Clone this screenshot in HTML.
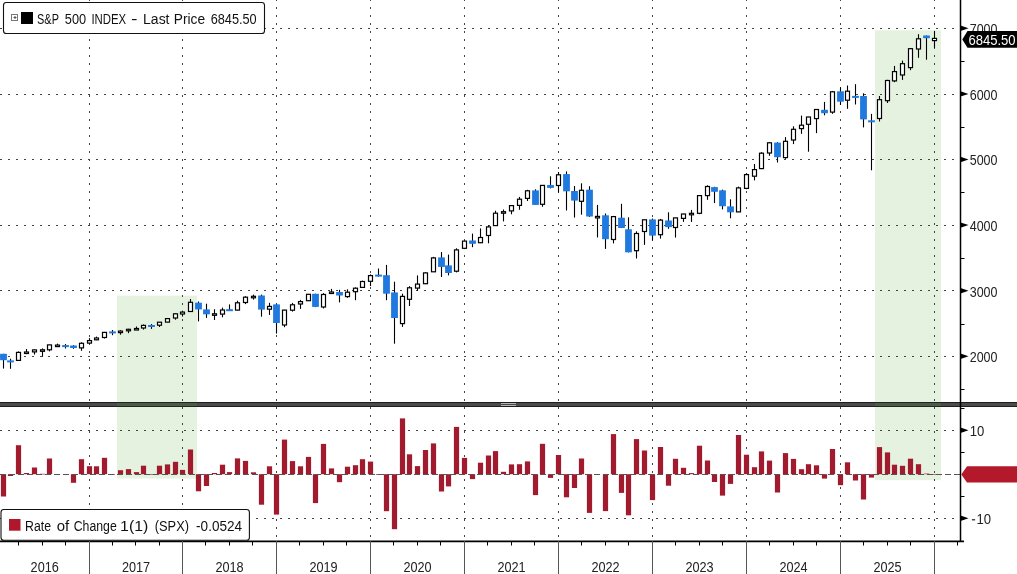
<!DOCTYPE html>
<html><head><meta charset="utf-8"><style>
html,body{margin:0;padding:0;background:#fff;width:1017px;height:574px;overflow:hidden}
svg text{font-family:"Liberation Sans",sans-serif}
svg{will-change:transform}
</style></head><body>
<svg width="1017" height="574" viewBox="0 0 1017 574" style="display:block">
<rect x="0" y="0" width="1017" height="574" fill="#fff"/>
<rect x="117" y="295.6" width="80" height="183" fill="#e6f2e0"/>
<rect x="875" y="30.2" width="66" height="450" fill="#e6f2e0"/>
<line x1="0" y1="356.5" x2="960.5" y2="356.5" stroke="#444" stroke-width="1" stroke-dasharray="2 6"/>
<line x1="0" y1="290.5" x2="960.5" y2="290.5" stroke="#444" stroke-width="1" stroke-dasharray="2 6"/>
<line x1="0" y1="225.5" x2="960.5" y2="225.5" stroke="#444" stroke-width="1" stroke-dasharray="2 6"/>
<line x1="0" y1="159.5" x2="960.5" y2="159.5" stroke="#444" stroke-width="1" stroke-dasharray="2 6"/>
<line x1="0" y1="94.5" x2="960.5" y2="94.5" stroke="#444" stroke-width="1" stroke-dasharray="2 6"/>
<line x1="0" y1="28.5" x2="960.5" y2="28.5" stroke="#444" stroke-width="1" stroke-dasharray="2 6"/>
<line x1="0" y1="430.5" x2="960.5" y2="430.5" stroke="#444" stroke-width="1" stroke-dasharray="2 6"/>
<line x1="0" y1="518.5" x2="960.5" y2="518.5" stroke="#444" stroke-width="1" stroke-dasharray="2 6"/>
<line x1="89.5" y1="-1" x2="89.5" y2="541" stroke="#444" stroke-width="1" stroke-dasharray="2 6"/>
<line x1="182.5" y1="-1" x2="182.5" y2="541" stroke="#444" stroke-width="1" stroke-dasharray="2 6"/>
<line x1="276.5" y1="-1" x2="276.5" y2="541" stroke="#444" stroke-width="1" stroke-dasharray="2 6"/>
<line x1="370.5" y1="-1" x2="370.5" y2="541" stroke="#444" stroke-width="1" stroke-dasharray="2 6"/>
<line x1="464.5" y1="-1" x2="464.5" y2="541" stroke="#444" stroke-width="1" stroke-dasharray="2 6"/>
<line x1="558.5" y1="-1" x2="558.5" y2="541" stroke="#444" stroke-width="1" stroke-dasharray="2 6"/>
<line x1="652.5" y1="-1" x2="652.5" y2="541" stroke="#444" stroke-width="1" stroke-dasharray="2 6"/>
<line x1="746.5" y1="-1" x2="746.5" y2="541" stroke="#444" stroke-width="1" stroke-dasharray="2 6"/>
<line x1="840.5" y1="-1" x2="840.5" y2="541" stroke="#444" stroke-width="1" stroke-dasharray="2 6"/>
<line x1="934.5" y1="-1" x2="934.5" y2="541" stroke="#444" stroke-width="1" stroke-dasharray="2 6"/>
<rect x="0" y="402" width="1017" height="5" fill="#1e1e1e"/>
<rect x="0" y="403" width="1017" height="3" fill="#4b4b4b"/>
<rect x="501" y="403" width="15" height="1" fill="#b4b4b4"/>
<rect x="501" y="405" width="15" height="1" fill="#b4b4b4"/>
<rect x="117" y="402" width="80" height="5" fill="#1f291f"/>
<rect x="117" y="403" width="80" height="3" fill="#4b5a49"/>
<rect x="875" y="402" width="66" height="5" fill="#1f291f"/>
<rect x="875" y="403" width="66" height="3" fill="#4b5a49"/>
<line x1="3.5" y1="353.8" x2="3.5" y2="368.6" stroke="#000" stroke-width="1.1"/>
<rect x="0.1" y="353.8" width="6.8" height="6.4" fill="#2079de"/>
<line x1="10.5" y1="358.7" x2="10.5" y2="368.8" stroke="#000" stroke-width="1.1"/>
<rect x="7.1" y="360.4" width="6.8" height="2.0" fill="#2079de"/>
<line x1="18.5" y1="351.4" x2="18.5" y2="360.8" stroke="#000" stroke-width="1.1"/>
<rect x="16.5" y="352.4" width="4" height="8.0" fill="#fff" stroke="#000" stroke-width="1.2"/>
<line x1="26.5" y1="349.0" x2="26.5" y2="354.1" stroke="#000" stroke-width="1.1"/>
<rect x="24.5" y="352.0" width="4" height="1.5" fill="#fff" stroke="#000" stroke-width="1.2"/>
<line x1="34.5" y1="349.5" x2="34.5" y2="354.6" stroke="#000" stroke-width="1.1"/>
<rect x="32.5" y="349.9" width="4" height="2.0" fill="#fff" stroke="#000" stroke-width="1.2"/>
<line x1="42.5" y1="348.4" x2="42.5" y2="356.8" stroke="#000" stroke-width="1.1"/>
<rect x="40.5" y="349.8" width="4" height="1.5" fill="#fff" stroke="#000" stroke-width="1.2"/>
<line x1="49.5" y1="344.7" x2="49.5" y2="351.4" stroke="#000" stroke-width="1.1"/>
<rect x="47.5" y="344.9" width="4" height="4.9" fill="#fff" stroke="#000" stroke-width="1.2"/>
<line x1="57.5" y1="343.6" x2="57.5" y2="346.6" stroke="#000" stroke-width="1.1"/>
<rect x="55.5" y="345.1" width="4" height="1.5" fill="#fff" stroke="#000" stroke-width="1.2"/>
<line x1="65.5" y1="344.0" x2="65.5" y2="348.5" stroke="#000" stroke-width="1.1"/>
<rect x="62.1" y="345.1" width="6.8" height="2.0" fill="#2079de"/>
<line x1="73.5" y1="345.2" x2="73.5" y2="348.8" stroke="#000" stroke-width="1.1"/>
<rect x="70.1" y="345.5" width="6.8" height="2.5" fill="#2079de"/>
<line x1="81.5" y1="342.3" x2="81.5" y2="350.8" stroke="#000" stroke-width="1.1"/>
<rect x="79.5" y="343.3" width="4" height="4.6" fill="#fff" stroke="#000" stroke-width="1.2"/>
<line x1="89.5" y1="338.1" x2="89.5" y2="344.0" stroke="#000" stroke-width="1.1"/>
<rect x="87.5" y="340.6" width="4" height="2.5" fill="#fff" stroke="#000" stroke-width="1.2"/>
<line x1="96.5" y1="336.6" x2="96.5" y2="340.2" stroke="#000" stroke-width="1.1"/>
<rect x="94.5" y="338.0" width="4" height="1.8" fill="#fff" stroke="#000" stroke-width="1.2"/>
<line x1="104.5" y1="331.9" x2="104.5" y2="338.5" stroke="#000" stroke-width="1.1"/>
<rect x="102.5" y="332.4" width="4" height="5.1" fill="#fff" stroke="#000" stroke-width="1.2"/>
<line x1="112.5" y1="330.0" x2="112.5" y2="335.2" stroke="#000" stroke-width="1.1"/>
<rect x="109.1" y="331.4" width="6.8" height="2.0" fill="#2079de"/>
<line x1="120.5" y1="330.2" x2="120.5" y2="334.7" stroke="#000" stroke-width="1.1"/>
<rect x="118.5" y="331.1" width="4" height="1.5" fill="#fff" stroke="#000" stroke-width="1.2"/>
<line x1="128.5" y1="328.8" x2="128.5" y2="333.2" stroke="#000" stroke-width="1.1"/>
<rect x="126.5" y="329.3" width="4" height="1.5" fill="#fff" stroke="#000" stroke-width="1.2"/>
<line x1="136.5" y1="326.5" x2="136.5" y2="329.7" stroke="#000" stroke-width="1.1"/>
<rect x="134.5" y="328.5" width="4" height="1.5" fill="#fff" stroke="#000" stroke-width="1.2"/>
<line x1="143.5" y1="324.5" x2="143.5" y2="329.6" stroke="#000" stroke-width="1.1"/>
<rect x="141.5" y="325.4" width="4" height="2.6" fill="#fff" stroke="#000" stroke-width="1.2"/>
<line x1="151.5" y1="324.1" x2="151.5" y2="328.9" stroke="#000" stroke-width="1.1"/>
<rect x="148.1" y="325.0" width="6.8" height="2.0" fill="#2079de"/>
<line x1="159.5" y1="322.2" x2="159.5" y2="327.0" stroke="#000" stroke-width="1.1"/>
<rect x="157.5" y="322.2" width="4" height="3.0" fill="#fff" stroke="#000" stroke-width="1.2"/>
<line x1="167.5" y1="318.1" x2="167.5" y2="322.2" stroke="#000" stroke-width="1.1"/>
<rect x="165.5" y="318.6" width="4" height="3.5" fill="#fff" stroke="#000" stroke-width="1.2"/>
<line x1="175.5" y1="313.2" x2="175.5" y2="319.7" stroke="#000" stroke-width="1.1"/>
<rect x="173.5" y="313.8" width="4" height="4.2" fill="#fff" stroke="#000" stroke-width="1.2"/>
<line x1="182.5" y1="310.7" x2="182.5" y2="316.6" stroke="#000" stroke-width="1.1"/>
<rect x="180.5" y="312.1" width="4" height="1.9" fill="#fff" stroke="#000" stroke-width="1.2"/>
<line x1="190.5" y1="299.0" x2="190.5" y2="311.5" stroke="#000" stroke-width="1.1"/>
<rect x="188.5" y="302.3" width="4" height="9.2" fill="#fff" stroke="#000" stroke-width="1.2"/>
<line x1="198.5" y1="301.5" x2="198.5" y2="321.4" stroke="#000" stroke-width="1.1"/>
<rect x="195.1" y="302.7" width="6.8" height="6.7" fill="#2079de"/>
<line x1="206.5" y1="303.7" x2="206.5" y2="317.9" stroke="#000" stroke-width="1.1"/>
<rect x="203.1" y="309.4" width="6.8" height="4.9" fill="#2079de"/>
<line x1="214.5" y1="309.2" x2="214.5" y2="320.0" stroke="#000" stroke-width="1.1"/>
<rect x="212.5" y="313.8" width="4" height="1.5" fill="#fff" stroke="#000" stroke-width="1.2"/>
<line x1="222.5" y1="307.6" x2="222.5" y2="317.3" stroke="#000" stroke-width="1.1"/>
<rect x="220.5" y="310.0" width="4" height="4.1" fill="#fff" stroke="#000" stroke-width="1.2"/>
<line x1="229.5" y1="304.4" x2="229.5" y2="310.9" stroke="#000" stroke-width="1.1"/>
<rect x="226.1" y="309.2" width="6.8" height="2.0" fill="#2079de"/>
<line x1="237.5" y1="300.7" x2="237.5" y2="310.4" stroke="#000" stroke-width="1.1"/>
<rect x="235.5" y="302.8" width="4" height="7.3" fill="#fff" stroke="#000" stroke-width="1.2"/>
<line x1="245.5" y1="296.2" x2="245.5" y2="304.1" stroke="#000" stroke-width="1.1"/>
<rect x="243.5" y="297.2" width="4" height="5.3" fill="#fff" stroke="#000" stroke-width="1.2"/>
<line x1="253.5" y1="294.6" x2="253.5" y2="299.6" stroke="#000" stroke-width="1.1"/>
<rect x="251.5" y="296.3" width="4" height="1.5" fill="#fff" stroke="#000" stroke-width="1.2"/>
<line x1="261.5" y1="294.6" x2="261.5" y2="316.7" stroke="#000" stroke-width="1.1"/>
<rect x="258.1" y="295.5" width="6.8" height="14.1" fill="#2079de"/>
<line x1="269.5" y1="302.8" x2="269.5" y2="314.9" stroke="#000" stroke-width="1.1"/>
<rect x="267.5" y="306.4" width="4" height="2.8" fill="#fff" stroke="#000" stroke-width="1.2"/>
<line x1="276.5" y1="303.8" x2="276.5" y2="333.6" stroke="#000" stroke-width="1.1"/>
<rect x="273.1" y="304.4" width="6.8" height="18.6" fill="#2079de"/>
<line x1="284.5" y1="309.8" x2="284.5" y2="327.2" stroke="#000" stroke-width="1.1"/>
<rect x="282.5" y="310.1" width="4" height="14.9" fill="#fff" stroke="#000" stroke-width="1.2"/>
<line x1="292.5" y1="302.9" x2="292.5" y2="311.6" stroke="#000" stroke-width="1.1"/>
<rect x="290.5" y="304.8" width="4" height="5.4" fill="#fff" stroke="#000" stroke-width="1.2"/>
<line x1="300.5" y1="299.9" x2="300.5" y2="308.9" stroke="#000" stroke-width="1.1"/>
<rect x="298.5" y="301.6" width="4" height="2.4" fill="#fff" stroke="#000" stroke-width="1.2"/>
<line x1="308.5" y1="294.0" x2="308.5" y2="300.6" stroke="#000" stroke-width="1.1"/>
<rect x="306.5" y="294.3" width="4" height="6.4" fill="#fff" stroke="#000" stroke-width="1.2"/>
<line x1="315.5" y1="293.7" x2="315.5" y2="307.1" stroke="#000" stroke-width="1.1"/>
<rect x="312.1" y="293.8" width="6.8" height="13.1" fill="#2079de"/>
<line x1="323.5" y1="293.1" x2="323.5" y2="308.5" stroke="#000" stroke-width="1.1"/>
<rect x="321.5" y="294.5" width="4" height="12.5" fill="#fff" stroke="#000" stroke-width="1.2"/>
<line x1="331.5" y1="288.9" x2="331.5" y2="293.8" stroke="#000" stroke-width="1.1"/>
<rect x="329.5" y="292.0" width="4" height="1.5" fill="#fff" stroke="#000" stroke-width="1.2"/>
<line x1="339.5" y1="289.8" x2="339.5" y2="302.4" stroke="#000" stroke-width="1.1"/>
<rect x="336.1" y="292.0" width="6.8" height="3.5" fill="#2079de"/>
<line x1="347.5" y1="289.3" x2="347.5" y2="297.8" stroke="#000" stroke-width="1.1"/>
<rect x="345.5" y="292.2" width="4" height="4.4" fill="#fff" stroke="#000" stroke-width="1.2"/>
<line x1="355.5" y1="287.4" x2="355.5" y2="300.2" stroke="#000" stroke-width="1.1"/>
<rect x="353.5" y="288.2" width="4" height="3.5" fill="#fff" stroke="#000" stroke-width="1.2"/>
<line x1="362.5" y1="280.6" x2="362.5" y2="287.4" stroke="#000" stroke-width="1.1"/>
<rect x="360.5" y="281.5" width="4" height="5.9" fill="#fff" stroke="#000" stroke-width="1.2"/>
<line x1="370.5" y1="274.4" x2="370.5" y2="286.1" stroke="#000" stroke-width="1.1"/>
<rect x="368.5" y="275.6" width="4" height="5.7" fill="#fff" stroke="#000" stroke-width="1.2"/>
<line x1="378.5" y1="268.5" x2="378.5" y2="276.6" stroke="#000" stroke-width="1.1"/>
<rect x="375.1" y="274.6" width="6.8" height="2.0" fill="#2079de"/>
<line x1="386.5" y1="264.9" x2="386.5" y2="300.2" stroke="#000" stroke-width="1.1"/>
<rect x="383.1" y="275.2" width="6.8" height="18.5" fill="#2079de"/>
<line x1="394.5" y1="281.7" x2="394.5" y2="343.7" stroke="#000" stroke-width="1.1"/>
<rect x="391.1" y="292.4" width="6.8" height="25.6" fill="#2079de"/>
<line x1="402.5" y1="293.7" x2="402.5" y2="326.9" stroke="#000" stroke-width="1.1"/>
<rect x="400.5" y="296.4" width="4" height="27.2" fill="#fff" stroke="#000" stroke-width="1.2"/>
<line x1="409.5" y1="286.2" x2="409.5" y2="306.0" stroke="#000" stroke-width="1.1"/>
<rect x="407.5" y="287.8" width="4" height="11.5" fill="#fff" stroke="#000" stroke-width="1.2"/>
<line x1="417.5" y1="275.4" x2="417.5" y2="290.7" stroke="#000" stroke-width="1.1"/>
<rect x="415.5" y="284.1" width="4" height="4.0" fill="#fff" stroke="#000" stroke-width="1.2"/>
<line x1="425.5" y1="272.3" x2="425.5" y2="284.1" stroke="#000" stroke-width="1.1"/>
<rect x="423.5" y="272.9" width="4" height="10.8" fill="#fff" stroke="#000" stroke-width="1.2"/>
<line x1="433.5" y1="256.9" x2="433.5" y2="272.0" stroke="#000" stroke-width="1.1"/>
<rect x="431.5" y="257.9" width="4" height="13.9" fill="#fff" stroke="#000" stroke-width="1.2"/>
<line x1="441.5" y1="252.1" x2="441.5" y2="277.0" stroke="#000" stroke-width="1.1"/>
<rect x="438.1" y="257.4" width="6.8" height="9.5" fill="#2079de"/>
<line x1="448.5" y1="254.6" x2="448.5" y2="275.4" stroke="#000" stroke-width="1.1"/>
<rect x="445.1" y="265.4" width="6.8" height="7.6" fill="#2079de"/>
<line x1="456.5" y1="248.3" x2="456.5" y2="272.4" stroke="#000" stroke-width="1.1"/>
<rect x="454.5" y="249.9" width="4" height="21.3" fill="#fff" stroke="#000" stroke-width="1.2"/>
<line x1="464.5" y1="240.8" x2="464.5" y2="249.1" stroke="#000" stroke-width="1.1"/>
<rect x="462.5" y="241.1" width="4" height="7.2" fill="#fff" stroke="#000" stroke-width="1.2"/>
<line x1="472.5" y1="233.6" x2="472.5" y2="247.2" stroke="#000" stroke-width="1.1"/>
<rect x="469.1" y="240.5" width="6.8" height="3.3" fill="#2079de"/>
<line x1="480.5" y1="228.4" x2="480.5" y2="243.1" stroke="#000" stroke-width="1.1"/>
<rect x="478.5" y="237.5" width="4" height="5.2" fill="#fff" stroke="#000" stroke-width="1.2"/>
<line x1="488.5" y1="225.5" x2="488.5" y2="243.3" stroke="#000" stroke-width="1.1"/>
<rect x="486.5" y="226.9" width="4" height="8.6" fill="#fff" stroke="#000" stroke-width="1.2"/>
<line x1="495.5" y1="210.7" x2="495.5" y2="225.6" stroke="#000" stroke-width="1.1"/>
<rect x="493.5" y="213.2" width="4" height="12.4" fill="#fff" stroke="#000" stroke-width="1.2"/>
<line x1="503.5" y1="209.5" x2="503.5" y2="221.4" stroke="#000" stroke-width="1.1"/>
<rect x="501.5" y="211.7" width="4" height="1.5" fill="#fff" stroke="#000" stroke-width="1.2"/>
<line x1="511.5" y1="205.3" x2="511.5" y2="214.3" stroke="#000" stroke-width="1.1"/>
<rect x="509.5" y="205.6" width="4" height="5.3" fill="#fff" stroke="#000" stroke-width="1.2"/>
<line x1="519.5" y1="196.9" x2="519.5" y2="209.8" stroke="#000" stroke-width="1.1"/>
<rect x="517.5" y="199.2" width="4" height="6.2" fill="#fff" stroke="#000" stroke-width="1.2"/>
<line x1="527.5" y1="189.8" x2="527.5" y2="201.0" stroke="#000" stroke-width="1.1"/>
<rect x="525.5" y="190.8" width="4" height="7.6" fill="#fff" stroke="#000" stroke-width="1.2"/>
<line x1="535.5" y1="189.3" x2="535.5" y2="205.0" stroke="#000" stroke-width="1.1"/>
<rect x="532.1" y="190.4" width="6.8" height="14.5" fill="#2079de"/>
<line x1="542.5" y1="185.2" x2="542.5" y2="206.8" stroke="#000" stroke-width="1.1"/>
<rect x="540.5" y="185.4" width="4" height="18.9" fill="#fff" stroke="#000" stroke-width="1.2"/>
<line x1="550.5" y1="176.3" x2="550.5" y2="188.4" stroke="#000" stroke-width="1.1"/>
<rect x="547.1" y="185.0" width="6.8" height="2.9" fill="#2079de"/>
<line x1="558.5" y1="172.0" x2="558.5" y2="192.6" stroke="#000" stroke-width="1.1"/>
<rect x="556.5" y="174.8" width="4" height="10.7" fill="#fff" stroke="#000" stroke-width="1.2"/>
<line x1="566.5" y1="171.4" x2="566.5" y2="210.5" stroke="#000" stroke-width="1.1"/>
<rect x="563.1" y="174.1" width="6.8" height="17.2" fill="#2079de"/>
<line x1="574.5" y1="186.0" x2="574.5" y2="217.6" stroke="#000" stroke-width="1.1"/>
<rect x="571.1" y="191.0" width="6.8" height="9.6" fill="#2079de"/>
<line x1="581.5" y1="183.3" x2="581.5" y2="214.7" stroke="#000" stroke-width="1.1"/>
<rect x="579.5" y="190.3" width="4" height="11.0" fill="#fff" stroke="#000" stroke-width="1.2"/>
<line x1="589.5" y1="186.2" x2="589.5" y2="216.9" stroke="#000" stroke-width="1.1"/>
<rect x="586.1" y="189.7" width="6.8" height="26.8" fill="#2079de"/>
<line x1="597.5" y1="204.9" x2="597.5" y2="237.5" stroke="#000" stroke-width="1.1"/>
<rect x="595.5" y="216.4" width="4" height="1.5" fill="#fff" stroke="#000" stroke-width="1.2"/>
<line x1="605.5" y1="213.5" x2="605.5" y2="248.9" stroke="#000" stroke-width="1.1"/>
<rect x="602.1" y="215.3" width="6.8" height="23.9" fill="#2079de"/>
<line x1="613.5" y1="215.9" x2="613.5" y2="243.4" stroke="#000" stroke-width="1.1"/>
<rect x="611.5" y="216.6" width="4" height="22.9" fill="#fff" stroke="#000" stroke-width="1.2"/>
<line x1="621.5" y1="203.8" x2="621.5" y2="228.1" stroke="#000" stroke-width="1.1"/>
<rect x="618.1" y="217.7" width="6.8" height="10.3" fill="#2079de"/>
<line x1="628.5" y1="217.3" x2="628.5" y2="252.4" stroke="#000" stroke-width="1.1"/>
<rect x="625.1" y="229.3" width="6.8" height="23.0" fill="#2079de"/>
<line x1="636.5" y1="231.3" x2="636.5" y2="258.5" stroke="#000" stroke-width="1.1"/>
<rect x="634.5" y="233.5" width="4" height="17.2" fill="#fff" stroke="#000" stroke-width="1.2"/>
<line x1="644.5" y1="219.8" x2="644.5" y2="244.9" stroke="#000" stroke-width="1.1"/>
<rect x="642.5" y="219.8" width="4" height="11.7" fill="#fff" stroke="#000" stroke-width="1.2"/>
<line x1="652.5" y1="218.5" x2="652.5" y2="240.5" stroke="#000" stroke-width="1.1"/>
<rect x="649.1" y="219.4" width="6.8" height="16.2" fill="#2079de"/>
<line x1="660.5" y1="218.9" x2="660.5" y2="238.6" stroke="#000" stroke-width="1.1"/>
<rect x="658.5" y="220.1" width="4" height="14.6" fill="#fff" stroke="#000" stroke-width="1.2"/>
<line x1="668.5" y1="212.3" x2="668.5" y2="228.8" stroke="#000" stroke-width="1.1"/>
<rect x="665.1" y="220.5" width="6.8" height="6.6" fill="#2079de"/>
<line x1="675.5" y1="217.8" x2="675.5" y2="237.6" stroke="#000" stroke-width="1.1"/>
<rect x="673.5" y="217.9" width="4" height="9.6" fill="#fff" stroke="#000" stroke-width="1.2"/>
<line x1="683.5" y1="213.9" x2="683.5" y2="221.9" stroke="#000" stroke-width="1.1"/>
<rect x="681.5" y="214.0" width="4" height="4.4" fill="#fff" stroke="#000" stroke-width="1.2"/>
<line x1="691.5" y1="209.9" x2="691.5" y2="221.9" stroke="#000" stroke-width="1.1"/>
<rect x="689.5" y="213.3" width="4" height="1.5" fill="#fff" stroke="#000" stroke-width="1.2"/>
<line x1="699.5" y1="195.0" x2="699.5" y2="214.2" stroke="#000" stroke-width="1.1"/>
<rect x="697.5" y="195.6" width="4" height="17.7" fill="#fff" stroke="#000" stroke-width="1.2"/>
<line x1="707.5" y1="185.3" x2="707.5" y2="199.8" stroke="#000" stroke-width="1.1"/>
<rect x="705.5" y="186.5" width="4" height="9.1" fill="#fff" stroke="#000" stroke-width="1.2"/>
<line x1="714.5" y1="186.8" x2="714.5" y2="203.1" stroke="#000" stroke-width="1.1"/>
<rect x="711.1" y="187.1" width="6.8" height="4.7" fill="#2079de"/>
<line x1="722.5" y1="189.6" x2="722.5" y2="209.4" stroke="#000" stroke-width="1.1"/>
<rect x="719.1" y="190.3" width="6.8" height="15.9" fill="#2079de"/>
<line x1="730.5" y1="199.3" x2="730.5" y2="218.3" stroke="#000" stroke-width="1.1"/>
<rect x="727.1" y="206.4" width="6.8" height="5.9" fill="#2079de"/>
<line x1="738.5" y1="186.6" x2="738.5" y2="212.1" stroke="#000" stroke-width="1.1"/>
<rect x="736.5" y="187.9" width="4" height="24.0" fill="#fff" stroke="#000" stroke-width="1.2"/>
<line x1="746.5" y1="173.1" x2="746.5" y2="189.2" stroke="#000" stroke-width="1.1"/>
<rect x="744.5" y="174.6" width="4" height="13.8" fill="#fff" stroke="#000" stroke-width="1.2"/>
<line x1="754.5" y1="164.0" x2="754.5" y2="180.4" stroke="#000" stroke-width="1.1"/>
<rect x="752.5" y="169.6" width="4" height="6.6" fill="#fff" stroke="#000" stroke-width="1.2"/>
<line x1="761.5" y1="152.2" x2="761.5" y2="169.1" stroke="#000" stroke-width="1.1"/>
<rect x="759.5" y="153.2" width="4" height="15.4" fill="#fff" stroke="#000" stroke-width="1.2"/>
<line x1="769.5" y1="142.1" x2="769.5" y2="155.8" stroke="#000" stroke-width="1.1"/>
<rect x="767.5" y="142.8" width="4" height="10.2" fill="#fff" stroke="#000" stroke-width="1.2"/>
<line x1="777.5" y1="142.2" x2="777.5" y2="162.5" stroke="#000" stroke-width="1.1"/>
<rect x="774.1" y="142.6" width="6.8" height="14.6" fill="#2079de"/>
<line x1="785.5" y1="137.1" x2="785.5" y2="158.8" stroke="#000" stroke-width="1.1"/>
<rect x="783.5" y="141.3" width="4" height="16.3" fill="#fff" stroke="#000" stroke-width="1.2"/>
<line x1="793.5" y1="126.3" x2="793.5" y2="144.1" stroke="#000" stroke-width="1.1"/>
<rect x="791.5" y="129.3" width="4" height="10.7" fill="#fff" stroke="#000" stroke-width="1.2"/>
<line x1="801.5" y1="115.6" x2="801.5" y2="133.9" stroke="#000" stroke-width="1.1"/>
<rect x="799.5" y="125.2" width="4" height="3.4" fill="#fff" stroke="#000" stroke-width="1.2"/>
<line x1="808.5" y1="116.8" x2="808.5" y2="151.7" stroke="#000" stroke-width="1.1"/>
<rect x="806.5" y="117.0" width="4" height="7.3" fill="#fff" stroke="#000" stroke-width="1.2"/>
<line x1="816.5" y1="109.2" x2="816.5" y2="133.1" stroke="#000" stroke-width="1.1"/>
<rect x="814.5" y="109.5" width="4" height="9.1" fill="#fff" stroke="#000" stroke-width="1.2"/>
<line x1="824.5" y1="101.9" x2="824.5" y2="115.3" stroke="#000" stroke-width="1.1"/>
<rect x="821.1" y="109.8" width="6.8" height="3.4" fill="#2079de"/>
<line x1="832.5" y1="91.0" x2="832.5" y2="113.8" stroke="#000" stroke-width="1.1"/>
<rect x="830.5" y="91.8" width="4" height="20.3" fill="#fff" stroke="#000" stroke-width="1.2"/>
<line x1="840.5" y1="87.3" x2="840.5" y2="104.9" stroke="#000" stroke-width="1.1"/>
<rect x="837.1" y="91.3" width="6.8" height="10.4" fill="#2079de"/>
<line x1="847.5" y1="85.5" x2="847.5" y2="108.8" stroke="#000" stroke-width="1.1"/>
<rect x="845.5" y="91.2" width="4" height="9.0" fill="#fff" stroke="#000" stroke-width="1.2"/>
<line x1="855.5" y1="84.2" x2="855.5" y2="104.5" stroke="#000" stroke-width="1.1"/>
<rect x="852.1" y="95.9" width="6.8" height="2.0" fill="#2079de"/>
<line x1="863.5" y1="93.3" x2="863.5" y2="127.4" stroke="#000" stroke-width="1.1"/>
<rect x="860.1" y="96.0" width="6.8" height="23.4" fill="#2079de"/>
<line x1="871.5" y1="113.9" x2="871.5" y2="170.3" stroke="#000" stroke-width="1.1"/>
<rect x="868.1" y="120.3" width="6.8" height="2.0" fill="#2079de"/>
<line x1="879.5" y1="96.0" x2="879.5" y2="121.5" stroke="#000" stroke-width="1.1"/>
<rect x="877.5" y="99.7" width="4" height="18.8" fill="#fff" stroke="#000" stroke-width="1.2"/>
<line x1="887.5" y1="79.8" x2="887.5" y2="103.0" stroke="#000" stroke-width="1.1"/>
<rect x="885.5" y="80.5" width="4" height="20.2" fill="#fff" stroke="#000" stroke-width="1.2"/>
<line x1="894.5" y1="65.9" x2="894.5" y2="82.2" stroke="#000" stroke-width="1.1"/>
<rect x="892.5" y="71.6" width="4" height="9.3" fill="#fff" stroke="#000" stroke-width="1.2"/>
<line x1="902.5" y1="60.6" x2="902.5" y2="79.9" stroke="#000" stroke-width="1.1"/>
<rect x="900.5" y="63.7" width="4" height="11.3" fill="#fff" stroke="#000" stroke-width="1.2"/>
<line x1="910.5" y1="48.0" x2="910.5" y2="70.2" stroke="#000" stroke-width="1.1"/>
<rect x="908.5" y="48.7" width="4" height="18.9" fill="#fff" stroke="#000" stroke-width="1.2"/>
<line x1="918.5" y1="34.2" x2="918.5" y2="57.8" stroke="#000" stroke-width="1.1"/>
<rect x="916.5" y="38.8" width="4" height="10.2" fill="#fff" stroke="#000" stroke-width="1.2"/>
<line x1="926.5" y1="35.5" x2="926.5" y2="59.7" stroke="#000" stroke-width="1.1"/>
<rect x="923.1" y="35.5" width="6.8" height="2.7" fill="#2079de"/>
<line x1="934.5" y1="30.9" x2="934.5" y2="48.0" stroke="#000" stroke-width="1.1"/>
<rect x="932.5" y="38.4" width="4" height="2.2" fill="#fff" stroke="#000" stroke-width="1.2"/>
<rect x="0.9" y="474.2" width="5.2" height="22.3" fill="#a11a2e"/>
<rect x="7.9" y="474.2" width="5.2" height="1.8" fill="#a11a2e"/>
<rect x="15.9" y="445.2" width="5.2" height="29.0" fill="#a11a2e"/>
<rect x="23.9" y="473.0" width="5.2" height="1.2" fill="#a11a2e"/>
<rect x="31.9" y="467.5" width="5.2" height="6.7" fill="#a11a2e"/>
<rect x="39.9" y="473.8" width="5.2" height="0.6" fill="#a11a2e"/>
<rect x="46.9" y="458.5" width="5.2" height="15.7" fill="#a11a2e"/>
<rect x="54.9" y="474.2" width="5.2" height="0.6" fill="#a11a2e"/>
<rect x="62.9" y="474.2" width="5.2" height="0.6" fill="#a11a2e"/>
<rect x="70.9" y="474.2" width="5.2" height="8.6" fill="#a11a2e"/>
<rect x="78.9" y="459.2" width="5.2" height="15.0" fill="#a11a2e"/>
<rect x="86.9" y="466.2" width="5.2" height="8.0" fill="#a11a2e"/>
<rect x="93.9" y="466.3" width="5.2" height="7.9" fill="#a11a2e"/>
<rect x="101.9" y="457.8" width="5.2" height="16.4" fill="#a11a2e"/>
<rect x="109.9" y="474.2" width="5.2" height="0.6" fill="#a11a2e"/>
<rect x="117.9" y="470.2" width="5.2" height="4.0" fill="#a11a2e"/>
<rect x="125.9" y="469.1" width="5.2" height="5.1" fill="#a11a2e"/>
<rect x="133.9" y="472.1" width="5.2" height="2.1" fill="#a11a2e"/>
<rect x="140.9" y="465.7" width="5.2" height="8.5" fill="#a11a2e"/>
<rect x="148.9" y="474.0" width="5.2" height="0.6" fill="#a11a2e"/>
<rect x="156.9" y="465.7" width="5.2" height="8.5" fill="#a11a2e"/>
<rect x="164.9" y="464.4" width="5.2" height="9.8" fill="#a11a2e"/>
<rect x="172.9" y="461.8" width="5.2" height="12.4" fill="#a11a2e"/>
<rect x="179.9" y="469.9" width="5.2" height="4.3" fill="#a11a2e"/>
<rect x="187.9" y="449.5" width="5.2" height="24.7" fill="#a11a2e"/>
<rect x="195.9" y="474.2" width="5.2" height="17.1" fill="#a11a2e"/>
<rect x="203.9" y="474.2" width="5.2" height="11.8" fill="#a11a2e"/>
<rect x="211.9" y="473.0" width="5.2" height="1.2" fill="#a11a2e"/>
<rect x="219.9" y="464.7" width="5.2" height="9.5" fill="#a11a2e"/>
<rect x="226.9" y="472.1" width="5.2" height="2.1" fill="#a11a2e"/>
<rect x="234.9" y="458.4" width="5.2" height="15.8" fill="#a11a2e"/>
<rect x="242.9" y="460.9" width="5.2" height="13.3" fill="#a11a2e"/>
<rect x="250.9" y="472.3" width="5.2" height="1.9" fill="#a11a2e"/>
<rect x="258.9" y="474.2" width="5.2" height="30.5" fill="#a11a2e"/>
<rect x="266.9" y="466.3" width="5.2" height="7.9" fill="#a11a2e"/>
<rect x="273.9" y="474.2" width="5.2" height="40.4" fill="#a11a2e"/>
<rect x="281.9" y="439.6" width="5.2" height="34.6" fill="#a11a2e"/>
<rect x="289.9" y="461.1" width="5.2" height="13.1" fill="#a11a2e"/>
<rect x="297.9" y="466.3" width="5.2" height="7.9" fill="#a11a2e"/>
<rect x="305.9" y="456.9" width="5.2" height="17.3" fill="#a11a2e"/>
<rect x="312.9" y="474.2" width="5.2" height="28.9" fill="#a11a2e"/>
<rect x="320.9" y="443.9" width="5.2" height="30.3" fill="#a11a2e"/>
<rect x="328.9" y="468.4" width="5.2" height="5.8" fill="#a11a2e"/>
<rect x="336.9" y="474.2" width="5.2" height="8.0" fill="#a11a2e"/>
<rect x="344.9" y="466.7" width="5.2" height="7.5" fill="#a11a2e"/>
<rect x="352.9" y="465.2" width="5.2" height="9.0" fill="#a11a2e"/>
<rect x="359.9" y="459.2" width="5.2" height="15.0" fill="#a11a2e"/>
<rect x="367.9" y="461.6" width="5.2" height="12.6" fill="#a11a2e"/>
<rect x="375.9" y="474.2" width="5.2" height="0.7" fill="#a11a2e"/>
<rect x="383.9" y="474.2" width="5.2" height="37.0" fill="#a11a2e"/>
<rect x="391.9" y="474.2" width="5.2" height="55.0" fill="#a11a2e"/>
<rect x="399.9" y="418.4" width="5.2" height="55.8" fill="#a11a2e"/>
<rect x="406.9" y="454.3" width="5.2" height="19.9" fill="#a11a2e"/>
<rect x="414.9" y="466.1" width="5.2" height="8.1" fill="#a11a2e"/>
<rect x="422.9" y="450.0" width="5.2" height="24.2" fill="#a11a2e"/>
<rect x="430.9" y="443.4" width="5.2" height="30.8" fill="#a11a2e"/>
<rect x="438.9" y="474.2" width="5.2" height="17.3" fill="#a11a2e"/>
<rect x="445.9" y="474.2" width="5.2" height="12.2" fill="#a11a2e"/>
<rect x="453.9" y="426.9" width="5.2" height="47.3" fill="#a11a2e"/>
<rect x="461.9" y="457.9" width="5.2" height="16.3" fill="#a11a2e"/>
<rect x="469.9" y="474.2" width="5.2" height="4.9" fill="#a11a2e"/>
<rect x="477.9" y="462.7" width="5.2" height="11.5" fill="#a11a2e"/>
<rect x="485.9" y="455.5" width="5.2" height="18.7" fill="#a11a2e"/>
<rect x="492.9" y="451.1" width="5.2" height="23.1" fill="#a11a2e"/>
<rect x="500.9" y="471.8" width="5.2" height="2.4" fill="#a11a2e"/>
<rect x="508.9" y="464.4" width="5.2" height="9.8" fill="#a11a2e"/>
<rect x="516.9" y="464.2" width="5.2" height="10.0" fill="#a11a2e"/>
<rect x="524.9" y="461.4" width="5.2" height="12.8" fill="#a11a2e"/>
<rect x="532.9" y="474.2" width="5.2" height="20.9" fill="#a11a2e"/>
<rect x="539.9" y="443.8" width="5.2" height="30.4" fill="#a11a2e"/>
<rect x="547.9" y="474.2" width="5.2" height="3.7" fill="#a11a2e"/>
<rect x="555.9" y="455.0" width="5.2" height="19.2" fill="#a11a2e"/>
<rect x="563.9" y="474.2" width="5.2" height="23.1" fill="#a11a2e"/>
<rect x="571.9" y="474.2" width="5.2" height="13.8" fill="#a11a2e"/>
<rect x="578.9" y="458.5" width="5.2" height="15.7" fill="#a11a2e"/>
<rect x="586.9" y="474.2" width="5.2" height="38.7" fill="#a11a2e"/>
<rect x="594.9" y="474.2" width="5.2" height="0.6" fill="#a11a2e"/>
<rect x="602.9" y="474.2" width="5.2" height="36.9" fill="#a11a2e"/>
<rect x="610.9" y="434.1" width="5.2" height="40.1" fill="#a11a2e"/>
<rect x="618.9" y="474.2" width="5.2" height="18.7" fill="#a11a2e"/>
<rect x="625.9" y="474.2" width="5.2" height="41.1" fill="#a11a2e"/>
<rect x="633.9" y="439.1" width="5.2" height="35.1" fill="#a11a2e"/>
<rect x="641.9" y="450.5" width="5.2" height="23.7" fill="#a11a2e"/>
<rect x="649.9" y="474.2" width="5.2" height="25.9" fill="#a11a2e"/>
<rect x="657.9" y="447.0" width="5.2" height="27.2" fill="#a11a2e"/>
<rect x="665.9" y="474.2" width="5.2" height="11.5" fill="#a11a2e"/>
<rect x="672.9" y="458.8" width="5.2" height="15.4" fill="#a11a2e"/>
<rect x="680.9" y="467.8" width="5.2" height="6.4" fill="#a11a2e"/>
<rect x="688.9" y="473.1" width="5.2" height="1.1" fill="#a11a2e"/>
<rect x="696.9" y="445.7" width="5.2" height="28.5" fill="#a11a2e"/>
<rect x="704.9" y="460.5" width="5.2" height="13.7" fill="#a11a2e"/>
<rect x="711.9" y="474.2" width="5.2" height="7.8" fill="#a11a2e"/>
<rect x="719.9" y="474.2" width="5.2" height="21.4" fill="#a11a2e"/>
<rect x="727.9" y="474.2" width="5.2" height="9.7" fill="#a11a2e"/>
<rect x="735.9" y="435.0" width="5.2" height="39.2" fill="#a11a2e"/>
<rect x="743.9" y="454.7" width="5.2" height="19.5" fill="#a11a2e"/>
<rect x="751.9" y="467.2" width="5.2" height="7.0" fill="#a11a2e"/>
<rect x="758.9" y="451.4" width="5.2" height="22.8" fill="#a11a2e"/>
<rect x="766.9" y="460.6" width="5.2" height="13.6" fill="#a11a2e"/>
<rect x="774.9" y="474.2" width="5.2" height="18.3" fill="#a11a2e"/>
<rect x="782.9" y="453.1" width="5.2" height="21.1" fill="#a11a2e"/>
<rect x="790.9" y="458.9" width="5.2" height="15.3" fill="#a11a2e"/>
<rect x="798.9" y="469.2" width="5.2" height="5.0" fill="#a11a2e"/>
<rect x="805.9" y="464.2" width="5.2" height="10.0" fill="#a11a2e"/>
<rect x="813.9" y="465.3" width="5.2" height="8.9" fill="#a11a2e"/>
<rect x="821.9" y="474.2" width="5.2" height="4.4" fill="#a11a2e"/>
<rect x="829.9" y="449.0" width="5.2" height="25.2" fill="#a11a2e"/>
<rect x="837.9" y="474.2" width="5.2" height="11.0" fill="#a11a2e"/>
<rect x="844.9" y="462.3" width="5.2" height="11.9" fill="#a11a2e"/>
<rect x="852.9" y="474.2" width="5.2" height="6.3" fill="#a11a2e"/>
<rect x="860.9" y="474.2" width="5.2" height="25.3" fill="#a11a2e"/>
<rect x="868.9" y="474.2" width="5.2" height="3.4" fill="#a11a2e"/>
<rect x="876.9" y="447.1" width="5.2" height="27.1" fill="#a11a2e"/>
<rect x="884.9" y="452.4" width="5.2" height="21.8" fill="#a11a2e"/>
<rect x="891.9" y="464.7" width="5.2" height="9.5" fill="#a11a2e"/>
<rect x="899.9" y="465.8" width="5.2" height="8.4" fill="#a11a2e"/>
<rect x="907.9" y="458.7" width="5.2" height="15.5" fill="#a11a2e"/>
<rect x="915.9" y="464.2" width="5.2" height="10.0" fill="#a11a2e"/>
<rect x="923.9" y="473.6" width="5.2" height="0.6" fill="#a11a2e"/>
<rect x="931.9" y="474.2" width="5.2" height="0.6" fill="#a11a2e"/>
<line x1="0" y1="474.5" x2="960.5" y2="474.5" stroke="#555" stroke-width="1" stroke-dasharray="6 3"/>
<line x1="960.5" y1="0" x2="960.5" y2="541.5" stroke="#000" stroke-width="1.5"/>
<line x1="0" y1="541.4" x2="964" y2="541.4" stroke="#000" stroke-width="1.6"/>
<polygon points="960.5,353.6 968.5,356.3 960.5,359.0" fill="#000"/>
<text x="969.7" y="362.1" font-size="14" fill="#222" textLength="27.8" lengthAdjust="spacingAndGlyphs">2000</text>
<polygon points="960.5,288.0 968.5,290.7 960.5,293.4" fill="#000"/>
<text x="969.7" y="296.5" font-size="14" fill="#222" textLength="27.8" lengthAdjust="spacingAndGlyphs">3000</text>
<polygon points="960.5,222.4 968.5,225.1 960.5,227.8" fill="#000"/>
<text x="969.7" y="230.9" font-size="14" fill="#222" textLength="27.8" lengthAdjust="spacingAndGlyphs">4000</text>
<polygon points="960.5,156.8 968.5,159.5 960.5,162.2" fill="#000"/>
<text x="969.7" y="165.3" font-size="14" fill="#222" textLength="27.8" lengthAdjust="spacingAndGlyphs">5000</text>
<polygon points="960.5,91.2 968.5,93.9 960.5,96.6" fill="#000"/>
<text x="969.7" y="99.7" font-size="14" fill="#222" textLength="27.8" lengthAdjust="spacingAndGlyphs">6000</text>
<polygon points="960.5,25.6 968.5,28.3 960.5,31.0" fill="#000"/>
<text x="969.7" y="34.1" font-size="14" fill="#222" textLength="27.8" lengthAdjust="spacingAndGlyphs">7000</text>
<line x1="960.5" y1="389.5" x2="964.5" y2="389.5" stroke="#000" stroke-width="1"/>
<line x1="960.5" y1="324.5" x2="964.5" y2="324.5" stroke="#000" stroke-width="1"/>
<line x1="960.5" y1="258.5" x2="964.5" y2="258.5" stroke="#000" stroke-width="1"/>
<line x1="960.5" y1="192.5" x2="964.5" y2="192.5" stroke="#000" stroke-width="1"/>
<line x1="960.5" y1="127.5" x2="964.5" y2="127.5" stroke="#000" stroke-width="1"/>
<line x1="960.5" y1="61.5" x2="964.5" y2="61.5" stroke="#000" stroke-width="1"/>
<polygon points="960.5,427.5 968.5,430.2 960.5,432.9" fill="#000"/>
<polygon points="960.5,515.5 968.5,518.2 960.5,520.9" fill="#000"/>
<text x="969.7" y="436.2" font-size="14" fill="#222" textLength="14.6" lengthAdjust="spacingAndGlyphs">10</text>
<rect x="971.9" y="519.2" width="3.2" height="1.2" fill="#222"/>
<text x="976.4" y="524.2" font-size="14" fill="#222" textLength="14.6" lengthAdjust="spacingAndGlyphs">10</text>
<line x1="960.5" y1="408.5" x2="964.5" y2="408.5" stroke="#000" stroke-width="1"/>
<line x1="960.5" y1="452.5" x2="964.5" y2="452.5" stroke="#000" stroke-width="1"/>
<line x1="960.5" y1="496.5" x2="964.5" y2="496.5" stroke="#000" stroke-width="1"/>
<polygon points="962.3,39.4 967.5,31 1017,31 1017,47.8 967.5,47.8" fill="#000"/>
<text x="968.4" y="45.0" font-size="14" fill="#fff" textLength="47.2" lengthAdjust="spacingAndGlyphs">6845.50</text>
<polygon points="961.3,474.4 967,466.3 1017,466.3 1017,482.5 967,482.5" fill="#b3182b"/>
<line x1="18.5" y1="542" x2="18.5" y2="545.5" stroke="#000" stroke-width="1"/>
<line x1="42.5" y1="542" x2="42.5" y2="545.5" stroke="#000" stroke-width="1"/>
<line x1="65.5" y1="542" x2="65.5" y2="545.5" stroke="#000" stroke-width="1"/>
<line x1="112.5" y1="542" x2="112.5" y2="545.5" stroke="#000" stroke-width="1"/>
<line x1="135.5" y1="542" x2="135.5" y2="545.5" stroke="#000" stroke-width="1"/>
<line x1="159.5" y1="542" x2="159.5" y2="545.5" stroke="#000" stroke-width="1"/>
<line x1="205.5" y1="542" x2="205.5" y2="545.5" stroke="#000" stroke-width="1"/>
<line x1="229.5" y1="542" x2="229.5" y2="545.5" stroke="#000" stroke-width="1"/>
<line x1="252.5" y1="542" x2="252.5" y2="545.5" stroke="#000" stroke-width="1"/>
<line x1="299.5" y1="542" x2="299.5" y2="545.5" stroke="#000" stroke-width="1"/>
<line x1="323.5" y1="542" x2="323.5" y2="545.5" stroke="#000" stroke-width="1"/>
<line x1="346.5" y1="542" x2="346.5" y2="545.5" stroke="#000" stroke-width="1"/>
<line x1="393.5" y1="542" x2="393.5" y2="545.5" stroke="#000" stroke-width="1"/>
<line x1="417.5" y1="542" x2="417.5" y2="545.5" stroke="#000" stroke-width="1"/>
<line x1="440.5" y1="542" x2="440.5" y2="545.5" stroke="#000" stroke-width="1"/>
<line x1="487.5" y1="542" x2="487.5" y2="545.5" stroke="#000" stroke-width="1"/>
<line x1="511.5" y1="542" x2="511.5" y2="545.5" stroke="#000" stroke-width="1"/>
<line x1="534.5" y1="542" x2="534.5" y2="545.5" stroke="#000" stroke-width="1"/>
<line x1="581.5" y1="542" x2="581.5" y2="545.5" stroke="#000" stroke-width="1"/>
<line x1="605.5" y1="542" x2="605.5" y2="545.5" stroke="#000" stroke-width="1"/>
<line x1="628.5" y1="542" x2="628.5" y2="545.5" stroke="#000" stroke-width="1"/>
<line x1="675.5" y1="542" x2="675.5" y2="545.5" stroke="#000" stroke-width="1"/>
<line x1="699.5" y1="542" x2="699.5" y2="545.5" stroke="#000" stroke-width="1"/>
<line x1="722.5" y1="542" x2="722.5" y2="545.5" stroke="#000" stroke-width="1"/>
<line x1="769.5" y1="542" x2="769.5" y2="545.5" stroke="#000" stroke-width="1"/>
<line x1="793.5" y1="542" x2="793.5" y2="545.5" stroke="#000" stroke-width="1"/>
<line x1="816.5" y1="542" x2="816.5" y2="545.5" stroke="#000" stroke-width="1"/>
<line x1="863.5" y1="542" x2="863.5" y2="545.5" stroke="#000" stroke-width="1"/>
<line x1="887.5" y1="542" x2="887.5" y2="545.5" stroke="#000" stroke-width="1"/>
<line x1="910.5" y1="542" x2="910.5" y2="545.5" stroke="#000" stroke-width="1"/>
<line x1="957.5" y1="542" x2="957.5" y2="545.5" stroke="#000" stroke-width="1"/>
<line x1="89.5" y1="541" x2="89.5" y2="574" stroke="#555" stroke-width="1"/>
<line x1="182.5" y1="541" x2="182.5" y2="574" stroke="#555" stroke-width="1"/>
<line x1="276.5" y1="541" x2="276.5" y2="574" stroke="#555" stroke-width="1"/>
<line x1="370.5" y1="541" x2="370.5" y2="574" stroke="#555" stroke-width="1"/>
<line x1="464.5" y1="541" x2="464.5" y2="574" stroke="#555" stroke-width="1"/>
<line x1="558.5" y1="541" x2="558.5" y2="574" stroke="#555" stroke-width="1"/>
<line x1="652.5" y1="541" x2="652.5" y2="574" stroke="#555" stroke-width="1"/>
<line x1="746.5" y1="541" x2="746.5" y2="574" stroke="#555" stroke-width="1"/>
<line x1="840.5" y1="541" x2="840.5" y2="574" stroke="#555" stroke-width="1"/>
<line x1="934.5" y1="541" x2="934.5" y2="574" stroke="#555" stroke-width="1"/>
<text x="30.6" y="571.8" font-size="14" fill="#222" textLength="28.2" lengthAdjust="spacingAndGlyphs">2016</text>
<text x="121.9" y="571.8" font-size="14" fill="#222" textLength="28.2" lengthAdjust="spacingAndGlyphs">2017</text>
<text x="215.4" y="571.8" font-size="14" fill="#222" textLength="28.2" lengthAdjust="spacingAndGlyphs">2018</text>
<text x="309.4" y="571.8" font-size="14" fill="#222" textLength="28.2" lengthAdjust="spacingAndGlyphs">2019</text>
<text x="403.4" y="571.8" font-size="14" fill="#222" textLength="28.2" lengthAdjust="spacingAndGlyphs">2020</text>
<text x="497.4" y="571.8" font-size="14" fill="#222" textLength="28.2" lengthAdjust="spacingAndGlyphs">2021</text>
<text x="591.4" y="571.8" font-size="14" fill="#222" textLength="28.2" lengthAdjust="spacingAndGlyphs">2022</text>
<text x="685.4" y="571.8" font-size="14" fill="#222" textLength="28.2" lengthAdjust="spacingAndGlyphs">2023</text>
<text x="779.4" y="571.8" font-size="14" fill="#222" textLength="28.2" lengthAdjust="spacingAndGlyphs">2024</text>
<text x="873.4" y="571.8" font-size="14" fill="#222" textLength="28.2" lengthAdjust="spacingAndGlyphs">2025</text>
<rect x="3.5" y="2.5" width="261" height="31" rx="2.8" fill="#fff" stroke="#111" stroke-width="1.1"/>
<rect x="11.5" y="14.5" width="6" height="6" fill="#fff" stroke="#777" stroke-width="1"/>
<rect x="13.5" y="17" width="3" height="1" fill="#555"/>
<rect x="14.5" y="16" width="1" height="3" fill="#555"/>
<rect x="21" y="12" width="12" height="12" fill="#000"/>
<text x="37.1" y="23.6" font-size="14" fill="#111" textLength="21.8" lengthAdjust="spacingAndGlyphs">S&amp;P</text>
<text x="64.8" y="23.6" font-size="14" fill="#111" textLength="21.3" lengthAdjust="spacingAndGlyphs">500</text>
<text x="91.4" y="23.6" font-size="14" fill="#111" textLength="34.8" lengthAdjust="spacingAndGlyphs">INDEX</text>
<text x="130.9" y="23.6" font-size="14" fill="#111" textLength="6.5" lengthAdjust="spacingAndGlyphs">-</text>
<text x="143.1" y="23.6" font-size="14" fill="#111" textLength="26.4" lengthAdjust="spacingAndGlyphs">Last</text>
<text x="173.8" y="23.6" font-size="14" fill="#111" textLength="31.3" lengthAdjust="spacingAndGlyphs">Price</text>
<text x="210.7" y="23.6" font-size="14" fill="#111" textLength="46.0" lengthAdjust="spacingAndGlyphs">6845.50</text>
<rect x="1" y="509.5" width="248.4" height="30.8" rx="2.8" fill="#fff" stroke="#111" stroke-width="1.1"/>
<rect x="9" y="519" width="11.5" height="11.7" fill="#b0172c"/>
<text x="25.1" y="530.7" font-size="14" fill="#111" textLength="26.0" lengthAdjust="spacingAndGlyphs">Rate</text>
<text x="56.7" y="530.7" font-size="14" fill="#111" textLength="12.5" lengthAdjust="spacingAndGlyphs">of</text>
<text x="73.7" y="530.7" font-size="14" fill="#111" textLength="43.1" lengthAdjust="spacingAndGlyphs">Change</text>
<text x="120.1" y="530.7" font-size="14" fill="#111" textLength="28.2" lengthAdjust="spacingAndGlyphs">1(1)</text>
<text x="154.8" y="530.7" font-size="14" fill="#111" textLength="34.2" lengthAdjust="spacingAndGlyphs">(SPX)</text>
<text x="196.1" y="530.7" font-size="14" fill="#111" textLength="46.0" lengthAdjust="spacingAndGlyphs">-0.0524</text>
</svg>
</body></html>
